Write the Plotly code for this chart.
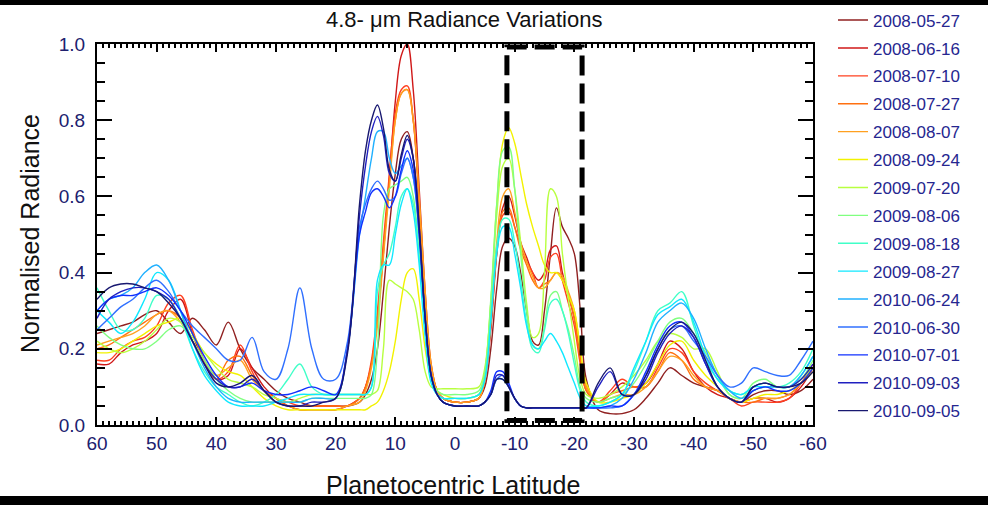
import plotly.graph_objects as go

# ---------------- data ----------------
lat = [60, 58, 56, 54, 52, 50, 48, 46, 44, 42, 40, 38, 36, 34, 32, 30, 28, 26, 24, 22, 20, 18,
       16, 15, 14, 13, 12, 11, 10, 9, 8, 7, 6, 5, 4, 3, 2,
       0, -2, -4,
       -5, -6, -7, -8, -9, -10, -11, -12, -13, -14, -15, -16, -17, -18, -19, -20, -21, -22,
       -24, -26, -28, -30, -32, -34, -36, -38, -40, -42, -44, -46, -48, -50, -52, -54, -56, -58, -60]

dates = ["2008-05-27", "2008-06-16", "2008-07-10", "2008-07-27", "2008-08-07", "2008-09-24",
         "2009-07-20", "2009-08-06", "2009-08-18", "2009-08-27", "2010-06-24", "2010-06-30",
         "2010-07-01", "2010-09-03", "2010-09-05"]

colors = ["#902020", "#d01818", "#ff4020", "#ff7010", "#ffa020", "#f2f200",
          "#b8ff40", "#80ff80", "#40ffc8", "#10e8ff", "#20b0ff", "#3070ff",
          "#1030ff", "#2020c0", "#181870"]

v_2008_05_27 = [0.24, 0.25, 0.26, 0.27, 0.29, 0.30, 0.27, 0.24, 0.28, 0.25, 0.21, 0.27, 0.20, 0.15, 0.12, 0.09, 0.07, 0.06, 0.05, 0.05, 0.05, 0.05,
                0.06, 0.08, 0.12, 0.20, 0.35, 0.52, 0.66, 0.75, 0.77, 0.70, 0.52, 0.30, 0.15, 0.09, 0.07,
                0.06, 0.06, 0.07,
                0.10, 0.20, 0.36, 0.47, 0.49, 0.47, 0.40, 0.30, 0.22, 0.21, 0.30, 0.45, 0.57, 0.52, 0.49, 0.45, 0.30, 0.12,
                0.04, 0.03, 0.03, 0.04, 0.07, 0.11, 0.15, 0.13, 0.11, 0.10, 0.09, 0.07, 0.06, 0.08, 0.09, 0.09, 0.08, 0.09, 0.12]

v_2008_06_16 = [0.16, 0.16, 0.19, 0.21, 0.22, 0.24, 0.30, 0.33, 0.24, 0.16, 0.12, 0.13, 0.20, 0.15, 0.10, 0.07, 0.05, 0.04, 0.04, 0.04, 0.04, 0.05,
                0.07, 0.10, 0.16, 0.28, 0.45, 0.65, 0.85, 0.97, 1.00, 0.88, 0.62, 0.35, 0.16, 0.09, 0.07,
                0.06, 0.06, 0.07,
                0.12, 0.25, 0.45, 0.57, 0.60, 0.55, 0.48, 0.44, 0.40, 0.38, 0.40, 0.46, 0.47, 0.40, 0.34, 0.28, 0.18, 0.10,
                0.06, 0.08, 0.11, 0.10, 0.11, 0.16, 0.22, 0.20, 0.14, 0.10, 0.08, 0.07, 0.06, 0.07, 0.07, 0.06, 0.07, 0.10, 0.15]

v_2008_07_10 = [0.17, 0.17, 0.20, 0.22, 0.23, 0.26, 0.32, 0.34, 0.25, 0.17, 0.12, 0.14, 0.21, 0.14, 0.09, 0.07, 0.06, 0.05, 0.05, 0.05, 0.05, 0.05,
                0.07, 0.10, 0.17, 0.30, 0.48, 0.66, 0.82, 0.88, 0.89, 0.80, 0.58, 0.33, 0.15, 0.09, 0.07,
                0.06, 0.06, 0.07,
                0.12, 0.26, 0.45, 0.55, 0.56, 0.52, 0.47, 0.43, 0.40, 0.36, 0.38, 0.44, 0.45, 0.38, 0.32, 0.26, 0.16, 0.09,
                0.06, 0.09, 0.12, 0.10, 0.10, 0.15, 0.20, 0.19, 0.14, 0.11, 0.09, 0.07, 0.05, 0.06, 0.06, 0.06, 0.07, 0.11, 0.16]

v_2008_07_27 = [0.20, 0.21, 0.23, 0.25, 0.27, 0.29, 0.30, 0.28, 0.22, 0.16, 0.12, 0.17, 0.18, 0.13, 0.09, 0.07, 0.05, 0.05, 0.05, 0.05, 0.05, 0.05,
                0.07, 0.10, 0.16, 0.28, 0.46, 0.64, 0.80, 0.87, 0.88, 0.80, 0.58, 0.33, 0.15, 0.09, 0.07,
                0.06, 0.06, 0.07,
                0.12, 0.27, 0.46, 0.56, 0.57, 0.52, 0.46, 0.42, 0.38, 0.36, 0.37, 0.38, 0.40, 0.38, 0.34, 0.28, 0.17, 0.09,
                0.06, 0.08, 0.09, 0.10, 0.10, 0.14, 0.19, 0.17, 0.12, 0.10, 0.09, 0.07, 0.06, 0.06, 0.07, 0.07, 0.08, 0.11, 0.15]

v_2008_08_07 = [0.21, 0.22, 0.23, 0.24, 0.26, 0.29, 0.30, 0.27, 0.22, 0.17, 0.13, 0.15, 0.17, 0.12, 0.09, 0.06, 0.05, 0.04, 0.04, 0.04, 0.04, 0.05,
                0.06, 0.09, 0.15, 0.26, 0.44, 0.62, 0.80, 0.87, 0.88, 0.80, 0.60, 0.35, 0.16, 0.09, 0.07,
                0.06, 0.06, 0.07,
                0.12, 0.27, 0.48, 0.60, 0.62, 0.56, 0.48, 0.43, 0.39, 0.36, 0.36, 0.38, 0.40, 0.39, 0.35, 0.30, 0.20, 0.10,
                0.06, 0.07, 0.08, 0.08, 0.10, 0.14, 0.18, 0.17, 0.13, 0.10, 0.09, 0.07, 0.06, 0.07, 0.07, 0.07, 0.08, 0.11, 0.15]

v_2008_09_24 = [0.19, 0.19, 0.20, 0.22, 0.24, 0.26, 0.27, 0.28, 0.24, 0.19, 0.16, 0.14, 0.13, 0.10, 0.07, 0.05, 0.04, 0.04, 0.04, 0.04, 0.04, 0.04,
                0.04, 0.04, 0.05, 0.06, 0.09, 0.14, 0.22, 0.33, 0.40, 0.41, 0.33, 0.20, 0.12, 0.09, 0.08,
                0.07, 0.07, 0.08,
                0.14, 0.32, 0.58, 0.74, 0.78, 0.74, 0.66, 0.58, 0.52, 0.47, 0.42, 0.40, 0.40, 0.38, 0.34, 0.30, 0.20, 0.11,
                0.06, 0.06, 0.07, 0.08, 0.11, 0.16, 0.21, 0.22, 0.17, 0.13, 0.10, 0.07, 0.06, 0.07, 0.08, 0.08, 0.09, 0.11, 0.14]

v_2009_07_20 = [0.22, 0.20, 0.19, 0.20, 0.22, 0.25, 0.28, 0.27, 0.23, 0.19, 0.15, 0.12, 0.11, 0.10, 0.08, 0.07, 0.06, 0.07, 0.08, 0.08, 0.08, 0.08,
                0.08, 0.08, 0.08, 0.09, 0.20, 0.38, 0.37, 0.36, 0.35, 0.33, 0.25, 0.14, 0.10, 0.095, 0.095,
                0.095, 0.095, 0.10,
                0.15, 0.32, 0.55, 0.68, 0.70, 0.62, 0.48, 0.32, 0.23, 0.24, 0.40, 0.62, 0.60, 0.45, 0.33, 0.22, 0.12, 0.08,
                0.07, 0.08, 0.10, 0.13, 0.17, 0.22, 0.24, 0.23, 0.20, 0.20, 0.14, 0.08, 0.07, 0.09, 0.10, 0.10, 0.10, 0.12, 0.15]

v_2009_08_06 = [0.26, 0.23, 0.21, 0.20, 0.20, 0.22, 0.25, 0.26, 0.22, 0.17, 0.12, 0.09, 0.07, 0.06, 0.06, 0.06, 0.06, 0.06, 0.07, 0.07, 0.07, 0.07,
                0.07, 0.07, 0.08, 0.20, 0.55, 0.62, 0.63, 0.64, 0.65, 0.60, 0.45, 0.25, 0.12, 0.09, 0.08,
                0.08, 0.08, 0.09,
                0.14, 0.33, 0.58, 0.72, 0.73, 0.62, 0.45, 0.30, 0.21, 0.20, 0.26, 0.34, 0.35, 0.30, 0.25, 0.18, 0.10, 0.07,
                0.06, 0.07, 0.08, 0.11, 0.16, 0.22, 0.27, 0.28, 0.24, 0.19, 0.13, 0.08, 0.07, 0.11, 0.12, 0.10, 0.10, 0.12, 0.17]

v_2009_08_18 = [0.36, 0.30, 0.25, 0.25, 0.28, 0.34, 0.33, 0.28, 0.20, 0.14, 0.10, 0.08, 0.06, 0.05, 0.06, 0.08, 0.12, 0.16, 0.10, 0.08, 0.08, 0.08,
                0.08, 0.08, 0.10, 0.35, 0.42, 0.45, 0.52, 0.60, 0.62, 0.58, 0.44, 0.25, 0.12, 0.08, 0.07,
                0.07, 0.07, 0.08,
                0.12, 0.28, 0.47, 0.54, 0.54, 0.48, 0.38, 0.27, 0.20, 0.19, 0.25, 0.32, 0.33, 0.30, 0.24, 0.16, 0.09, 0.06,
                0.05, 0.06, 0.08, 0.14, 0.22, 0.30, 0.32, 0.35, 0.26, 0.17, 0.12, 0.09, 0.08, 0.10, 0.11, 0.10, 0.11, 0.14, 0.20]

v_2009_08_27 = [0.30, 0.27, 0.24, 0.27, 0.33, 0.40, 0.38, 0.30, 0.20, 0.13, 0.09, 0.06, 0.05, 0.05, 0.05, 0.06, 0.07, 0.08, 0.08, 0.08, 0.08, 0.08,
                0.08, 0.08, 0.10, 0.38, 0.42, 0.42, 0.50, 0.58, 0.62, 0.56, 0.42, 0.23, 0.11, 0.08, 0.07,
                0.07, 0.07, 0.08,
                0.12, 0.27, 0.45, 0.52, 0.52, 0.45, 0.36, 0.26, 0.21, 0.20, 0.22, 0.24, 0.22, 0.19, 0.15, 0.11, 0.07, 0.05,
                0.05, 0.06, 0.08, 0.15, 0.22, 0.29, 0.31, 0.33, 0.27, 0.18, 0.12, 0.09, 0.08, 0.10, 0.10, 0.10, 0.10, 0.13, 0.18]

v_2010_06_24 = [0.30, 0.33, 0.34, 0.36, 0.40, 0.42, 0.38, 0.30, 0.22, 0.15, 0.10, 0.07, 0.06, 0.06, 0.06, 0.06, 0.06, 0.06, 0.07, 0.07, 0.07, 0.20,
                0.50, 0.60, 0.70, 0.77, 0.77, 0.70, 0.66, 0.68, 0.70, 0.65, 0.50, 0.28, 0.13, 0.08, 0.06,
                0.05, 0.05, 0.05,
                0.06, 0.08, 0.12, 0.12, 0.10, 0.07, 0.05, 0.045, 0.045, 0.045, 0.045, 0.045, 0.045, 0.045, 0.045, 0.045, 0.045, 0.045,
                0.045, 0.05, 0.07, 0.12, 0.19, 0.27, 0.30, 0.32, 0.28, 0.20, 0.13, 0.09, 0.07, 0.09, 0.10, 0.10, 0.10, 0.13, 0.18]

v_2010_06_30 = [0.25, 0.28, 0.31, 0.33, 0.36, 0.38, 0.35, 0.30, 0.26, 0.23, 0.20, 0.17, 0.17, 0.23, 0.14, 0.12, 0.20, 0.36, 0.20, 0.12, 0.12, 0.22,
                0.52, 0.58, 0.62, 0.64, 0.62, 0.59, 0.60, 0.66, 0.70, 0.65, 0.50, 0.28, 0.13, 0.08, 0.06,
                0.05, 0.05, 0.05,
                0.06, 0.08, 0.12, 0.13, 0.10, 0.07, 0.05, 0.045, 0.045, 0.045, 0.045, 0.045, 0.045, 0.045, 0.045, 0.045, 0.045, 0.045,
                0.045, 0.045, 0.05, 0.08, 0.13, 0.20, 0.25, 0.26, 0.22, 0.18, 0.13, 0.10, 0.11, 0.15, 0.14, 0.13, 0.13, 0.17, 0.22]

v_2010_07_01 = [0.30, 0.33, 0.34, 0.34, 0.35, 0.36, 0.34, 0.30, 0.24, 0.18, 0.13, 0.10, 0.10, 0.11, 0.09, 0.08, 0.08, 0.09, 0.10, 0.09, 0.08, 0.20,
                0.50, 0.56, 0.61, 0.62, 0.60, 0.57, 0.60, 0.67, 0.72, 0.67, 0.50, 0.28, 0.13, 0.08, 0.06,
                0.05, 0.05, 0.05,
                0.06, 0.09, 0.14, 0.14, 0.11, 0.07, 0.05, 0.045, 0.045, 0.045, 0.045, 0.045, 0.045, 0.045, 0.045, 0.045, 0.045, 0.045,
                0.045, 0.05, 0.05, 0.08, 0.14, 0.21, 0.26, 0.27, 0.23, 0.16, 0.10, 0.07, 0.06, 0.09, 0.10, 0.09, 0.09, 0.11, 0.15]

v_2010_09_03 = [0.28, 0.33, 0.35, 0.36, 0.36, 0.35, 0.33, 0.28, 0.22, 0.16, 0.12, 0.10, 0.10, 0.12, 0.09, 0.06, 0.05, 0.05, 0.06, 0.06, 0.07, 0.20,
                0.55, 0.68, 0.77, 0.81, 0.76, 0.66, 0.64, 0.70, 0.75, 0.70, 0.52, 0.28, 0.13, 0.08, 0.06,
                0.05, 0.05, 0.05,
                0.06, 0.08, 0.13, 0.13, 0.10, 0.07, 0.05, 0.045, 0.045, 0.045, 0.045, 0.045, 0.045, 0.045, 0.045, 0.045, 0.045, 0.045,
                0.10, 0.14, 0.08, 0.08, 0.12, 0.19, 0.24, 0.26, 0.23, 0.16, 0.10, 0.07, 0.06, 0.10, 0.11, 0.10, 0.10, 0.12, 0.16]

v_2010_09_05 = [0.33, 0.36, 0.37, 0.37, 0.36, 0.35, 0.32, 0.28, 0.22, 0.16, 0.11, 0.10, 0.11, 0.13, 0.09, 0.06, 0.05, 0.05, 0.05, 0.06, 0.07, 0.19,
                0.58, 0.72, 0.80, 0.84, 0.78, 0.67, 0.64, 0.71, 0.76, 0.70, 0.52, 0.28, 0.13, 0.08, 0.06,
                0.05, 0.05, 0.05,
                0.06, 0.08, 0.12, 0.12, 0.10, 0.07, 0.05, 0.045, 0.045, 0.045, 0.045, 0.045, 0.045, 0.045, 0.045, 0.045, 0.045, 0.045,
                0.11, 0.15, 0.08, 0.08, 0.13, 0.20, 0.25, 0.27, 0.24, 0.17, 0.10, 0.07, 0.06, 0.10, 0.11, 0.10, 0.10, 0.11, 0.14]

series_values = [v_2008_05_27, v_2008_06_16, v_2008_07_10, v_2008_07_27, v_2008_08_07, v_2008_09_24,
                 v_2009_07_20, v_2009_08_06, v_2009_08_18, v_2009_08_27, v_2010_06_24, v_2010_06_30,
                 v_2010_07_01, v_2010_09_03, v_2010_09_05]

xtick_vals = [60, 50, 40, 30, 20, 10, 0, -10, -20, -30, -40, -50, -60]
xtick_text = ["60", "50", "40", "30", "20", "10", "0", "-10", "-20", "-30", "-40", "-50", "-60"]
ytick_vals = [0.0, 0.2, 0.4, 0.6, 0.8, 1.0]
ytick_text = ["0.0", "0.2", "0.4", "0.6", "0.8", "1.0"]

box_lat = [-8.7, -21.3]

# ---------------- figure ----------------
W, H = 988, 505
L, R, T, B = 97, 813, 44, 425
FONT = "Liberation Sans, Arial, sans-serif"
TICKC = "#20206e"
LEGC = "#262690"


def px_x(px):
    return (px - L) / (R - L)


def px_y(py):
    return (B - py) / (B - T)


fig = go.Figure()
for d, c, v in zip(dates, colors, series_values):
    fig.add_trace(go.Scatter(
        x=lat, y=v, mode="lines", name=d, legendgroup=d,
        line=dict(color=c, width=1.4, shape="spline", smoothing=1.0),
        hoverinfo="skip"))

axis_common = dict(showline=True, linecolor="black", linewidth=2, mirror="ticks",
                   ticks="inside", tickcolor="black", showgrid=False, zeroline=False)

fig.update_xaxes(range=[60, -60], tickmode="array", tickvals=xtick_vals, ticktext=xtick_text,
                 ticklen=8, tickwidth=2,
                 minor=dict(dtick=1, tick0=0, ticks="inside", ticklen=4, tickwidth=1.5,
                            tickcolor="black", showgrid=False),
                 tickfont=dict(family=FONT, size=19, color=TICKC), **axis_common)
fig.update_yaxes(range=[0, 1.0], tickmode="array", tickvals=ytick_vals, ticktext=ytick_text,
                 ticklen=15, tickwidth=2, ticklabelstandoff=6,
                 minor=dict(dtick=0.05, tick0=0, ticks="inside", ticklen=8, tickwidth=1.5,
                            tickcolor="black", showgrid=False),
                 tickfont=dict(family=FONT, size=19, color=TICKC), **axis_common)

shapes = [
    dict(type="rect", xref="x", yref="y", x0=box_lat[0], x1=box_lat[1], y0=0.012, y1=0.992,
         line=dict(color="black", width=5, dash="20px,8px"), fillcolor="rgba(0,0,0,0)"),
    dict(type="rect", xref="paper", yref="paper", x0=px_x(-5), x1=px_x(W + 5),
         y0=px_y(5), y1=px_y(-5), fillcolor="black", line=dict(width=0), layer="above"),
    dict(type="rect", xref="paper", yref="paper", x0=px_x(-5), x1=px_x(W + 5),
         y0=px_y(H + 5), y1=px_y(496), fillcolor="black", line=dict(width=0), layer="above"),
]

annotations = [
    dict(text="4.8- \u03bcm Radiance Variations", xref="paper", yref="paper",
         x=px_x(464), y=px_y(20), xanchor="center", yanchor="middle", showarrow=False,
         font=dict(family=FONT, size=22, color="#111111")),
    dict(text="Planetocentric Latitude", xref="paper", yref="paper",
         x=px_x(453), y=px_y(485), xanchor="center", yanchor="middle", showarrow=False,
         font=dict(family=FONT, size=25, color="#111111")),
    dict(text="Normalised Radiance", xref="paper", yref="paper", textangle=-90,
         x=px_x(30), y=px_y(234), xanchor="center", yanchor="middle", showarrow=False,
         font=dict(family=FONT, size=25, color="#111111")),
]

fig.update_layout(
    width=W, height=H, autosize=False,
    margin=dict(l=L, r=W - R, t=T, b=H - B, pad=0, autoexpand=False),
    paper_bgcolor="white", plot_bgcolor="white",
    shapes=shapes, annotations=annotations,
    showlegend=True,
    legend=dict(xref="container", yref="container",
                x=833 / W, y=1 - 2.5 / H, xanchor="left", yanchor="top",
                traceorder="grouped", tracegroupgap=2.8, itemwidth=30, maxheight=495,
                bgcolor="rgba(0,0,0,0)", borderwidth=0,
                font=dict(family=FONT, size=17, color=LEGC)),
)

fig.write_html("out.html", config={"displayModeBar": False},
               post_script="document.body.style.margin='0px';")
